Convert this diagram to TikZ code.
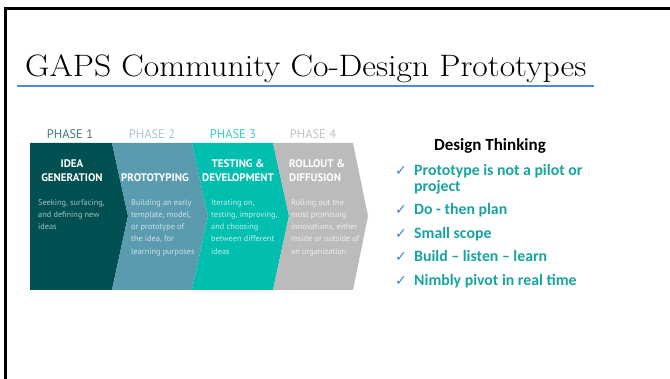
\documentclass[tikz,border=0pt]{standalone}
\usepackage{fontspec}
\usepackage{graphicx}
\usepackage{tikz}
\usetikzlibrary{positioning}
\newfontfamily\phasefont{PT Sans}
\newfontfamily\listfont{Carlito}
\newfontfamily\tickfont{DejaVu Sans}

\definecolor{phaseA}{HTML}{004F51}
\definecolor{phaseB}{HTML}{5B9BB0}
\definecolor{phaseC}{HTML}{00BFAE}
\definecolor{phaseD}{HTML}{BBBBBB}
\definecolor{rule}{HTML}{4A8AE0}
\definecolor{tick}{HTML}{3F7FE0}
\definecolor{itemtxt}{HTML}{17A3A0}

\begin{document}
\begin{tikzpicture}[x=1pt,y=-1pt,
	phaselbl/.style={font=\phasefont\fontsize{12.5}{14}\selectfont,inner sep=0pt,anchor=base},
	headtxt/.style={font=\phasefont\bfseries\fontsize{11}{14.5}\selectfont,text=white,align=center,inner sep=0pt,anchor=base},
	bodytxt/.style={font=\phasefont\fontsize{8.3}{12.3}\selectfont,align=left,inner sep=0pt,anchor=north west},
	checkmark/.style={font=\tickfont\fontsize{14}{15}\selectfont,text=tick,inner sep=0pt,anchor=base west},
	item/.style={font=\listfont\bfseries\fontsize{15.8}{16}\selectfont,text=itemtxt,align=left,inner sep=0pt,anchor=base west},
	]
	\useasboundingbox (0,0) rectangle (670,379);
	% slide frame
	\draw[line width=3pt] (5,379) -- (5,8.5) -- (670,8.5);

	% title
	\node[font=\fontsize{31}{36}\selectfont,inner sep=0pt,anchor=base west] (title) at (25,77) {\scalebox{1.085}[1]{GAPS Community Co-Design Prototypes}};
	\draw[rule,line width=2pt] (17,86) -- (594,86);

	% four chevrons
	\fill[phaseA] (30,143) -- (112,143) -- (128,216) -- (112,290) -- (30,290) -- cycle;
	\fill[phaseB] (112,143) -- (192,143) -- (208,216) -- (192,290) -- (112,290) -- (128,216) -- cycle;
	\fill[phaseC] (192,143) -- (273,143) -- (289,216) -- (273,290) -- (192,290) -- (208,216) -- cycle;
	\fill[phaseD] (273,143) -- (353,143) -- (368,216) -- (353,290) -- (273,290) -- (289,216) -- cycle;

	\node[phaselbl,text=phaseA!75!white] (ph1) at (70,139) {PHASE 1};
	\node[phaselbl,text=phaseB!55!white] (ph2) at (152,139) {PHASE 2};
	\node[phaselbl,text=phaseC!80!white] (ph3) at (233,139) {PHASE 3};
	\node[phaselbl,text=phaseD!90!white] (ph4) at (313,139) {PHASE 4};

	% multi-line nodes sit on their last baseline
	\node[headtxt] (h1) at (72,182) {IDEA\\GENERATION};
	\node[headtxt] (h2) at (155,182) {PROTOTYPING};
	\node[headtxt] (h3) at (238,182) {TESTING \&\\DEVELOPMENT};
	\node[headtxt,align=left,anchor=base west] (h4) at (289,182) {ROLLOUT \&\\DIFFUSION};

	\node[bodytxt,text=phaseA!35!white] (b1) at (38,199) {Seeking, surfacing,\\and defining new\\ideas};
	\node[bodytxt,text=phaseB!30!white] (b2) at (131,199) {Building an early\\template, model,\\or prototype of\\the idea, for\\learning purposes};
	\node[bodytxt,text=phaseC!25!white] (b3) at (211,199) {Iterating on,\\testing, improving,\\and choosing\\between different\\ideas};
	\node[bodytxt,text=phaseD!25!white] (b4) at (291,199) {Rolling out the\\most promising\\innovations, either\\inside or outside of\\an organization};

	% design thinking list
	\node[font=\listfont\bfseries\fontsize{17}{18}\selectfont,inner sep=0pt,anchor=base] (dt) at (490,151) {Design Thinking};
	\node[item] (i1) at (414,192) {Prototype is not a pilot or\\project};
	\node[item] (i2) at (414,215) {Do - then plan};
	\node[item] (i3) at (414,239) {Small scope};
	\node[item] (i4) at (414,262) {Build – listen – learn};
	\node[item] (i5) at (414,286) {Nimbly pivot in real time};
	\node[checkmark] (c1) at (395,176) {✓};
	\node[checkmark] (c2) at (395,215) {✓};
	\node[checkmark] (c3) at (395,239) {✓};
	\node[checkmark] (c4) at (395,262) {✓};
	\node[checkmark] (c5) at (395,286) {✓};
\end{tikzpicture}
\end{document}
